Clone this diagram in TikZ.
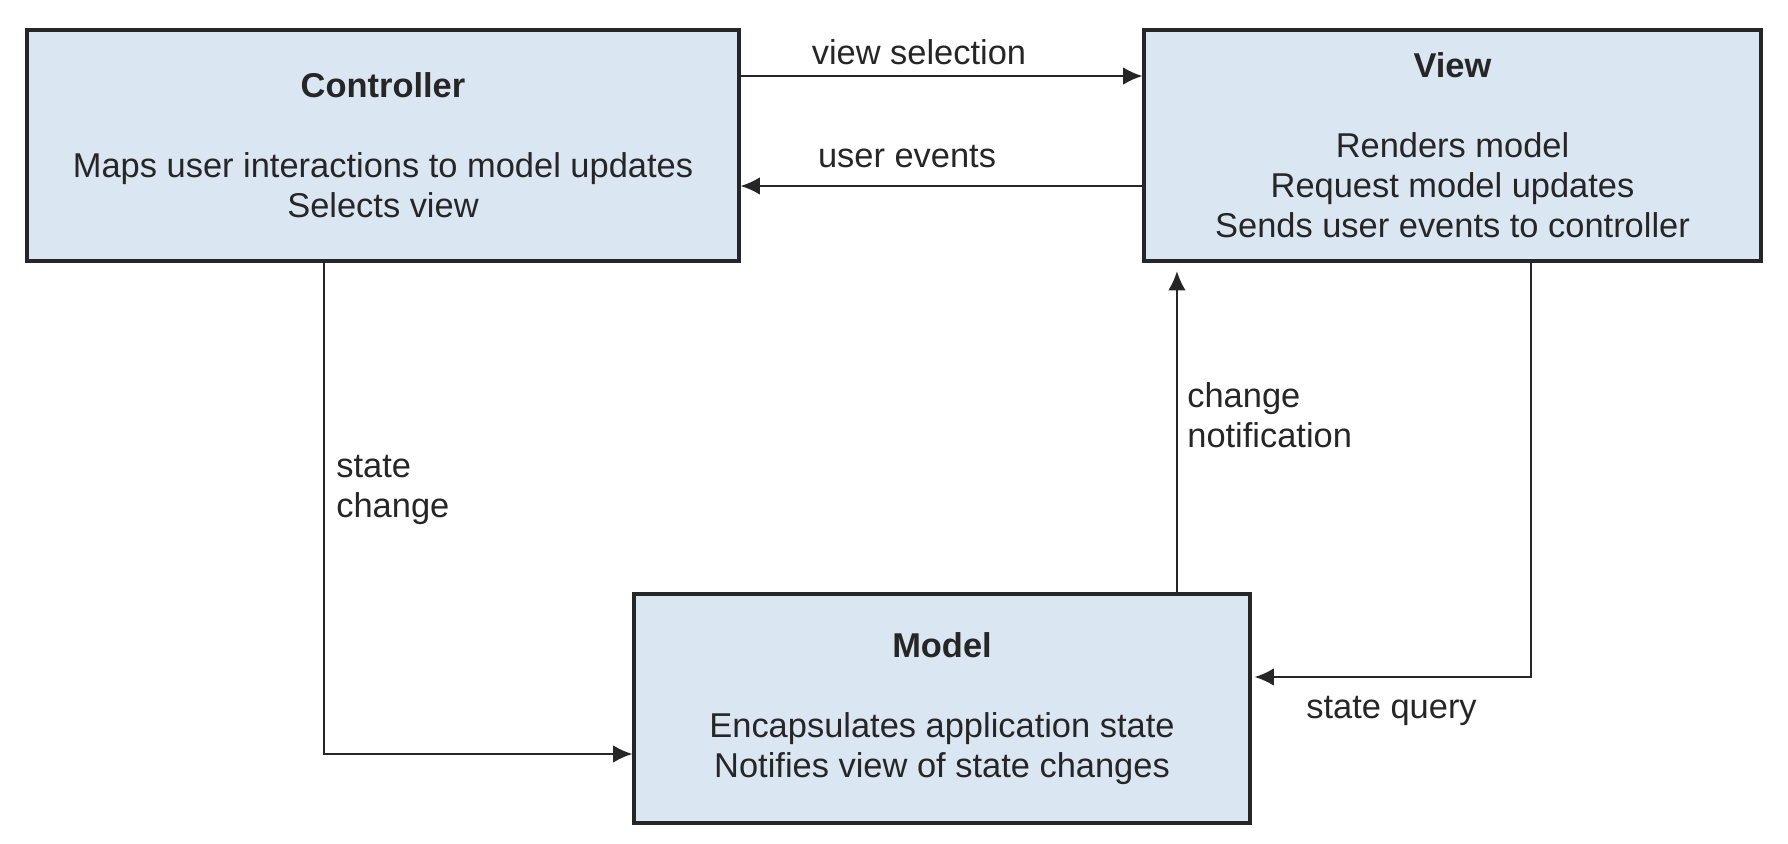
\documentclass[tikz,border=0pt]{standalone}
\usepackage{fontspec}
\setmainfont{Liberation Sans}
\usepackage{xcolor}
\usetikzlibrary{arrows.meta}
\definecolor{boxfill}{RGB}{218,230,241}
\definecolor{boxline}{RGB}{38,38,38}

\begin{document}
\begin{tikzpicture}[x=0.02cm, y=-0.02cm,
  panel/.style={draw=boxline, fill=boxfill, line width=1.8pt, align=center,
    minimum height=4.62cm, inner sep=0pt},
  arrow/.style={-{Latex[length=11pt,width=10pt]}, line width=1.3pt, draw=boxline},
  note/.style={align=left, anchor=west, inner sep=0pt},
  every node/.style={font=\fontsize{19.6}{22.7}\selectfont, text=black!85}
 ]
\useasboundingbox (0,0) rectangle (1788,844);

\node[panel, minimum width=14.24cm] (ctrl) at (383,145.5)
  {\textbf{Controller}\\[0.8cm]Maps user interactions to model updates\\Selects view};
\node[panel, minimum width=12.34cm] (view) at (1452.5,145.5)
  {\textbf{View}\\[0.8cm]Renders model\\Request model updates\\Sends user events to controller};
\node[panel, minimum width=12.32cm, minimum height=4.58cm] (model) at (942,708.5)
  {\textbf{Model}\\[0.8cm]Encapsulates application state\\Notifies view of state changes};

\draw[arrow] ([yshift=1.39cm]ctrl.east) -- ([yshift=1.39cm]view.west);
\draw[arrow] ([yshift=-0.81cm]view.west) -- ([yshift=-0.81cm]ctrl.east);
\draw[arrow] ([xshift=-1.18cm]ctrl.south) |- ([yshift=-0.91cm]model.west);
\draw[arrow, shorten >=0.17cm] ([xshift=4.7cm]model.north) -- ([xshift=4.7cm]model.north |- view.south);
\draw[arrow, shorten >=0.06cm] ([xshift=1.57cm]view.south) |- ([yshift=0.63cm]model.east);

\node (vsel) at (919,52) {view selection};
\node (uevt) at (907,157) {user events};
\node[note] (schg) at (336,490) {state\\change};
\node[note] (cnot) at (1187,415) {change\\notification};
\node[note] (squery) at (1306,711) {state query};
\end{tikzpicture}
\end{document}
